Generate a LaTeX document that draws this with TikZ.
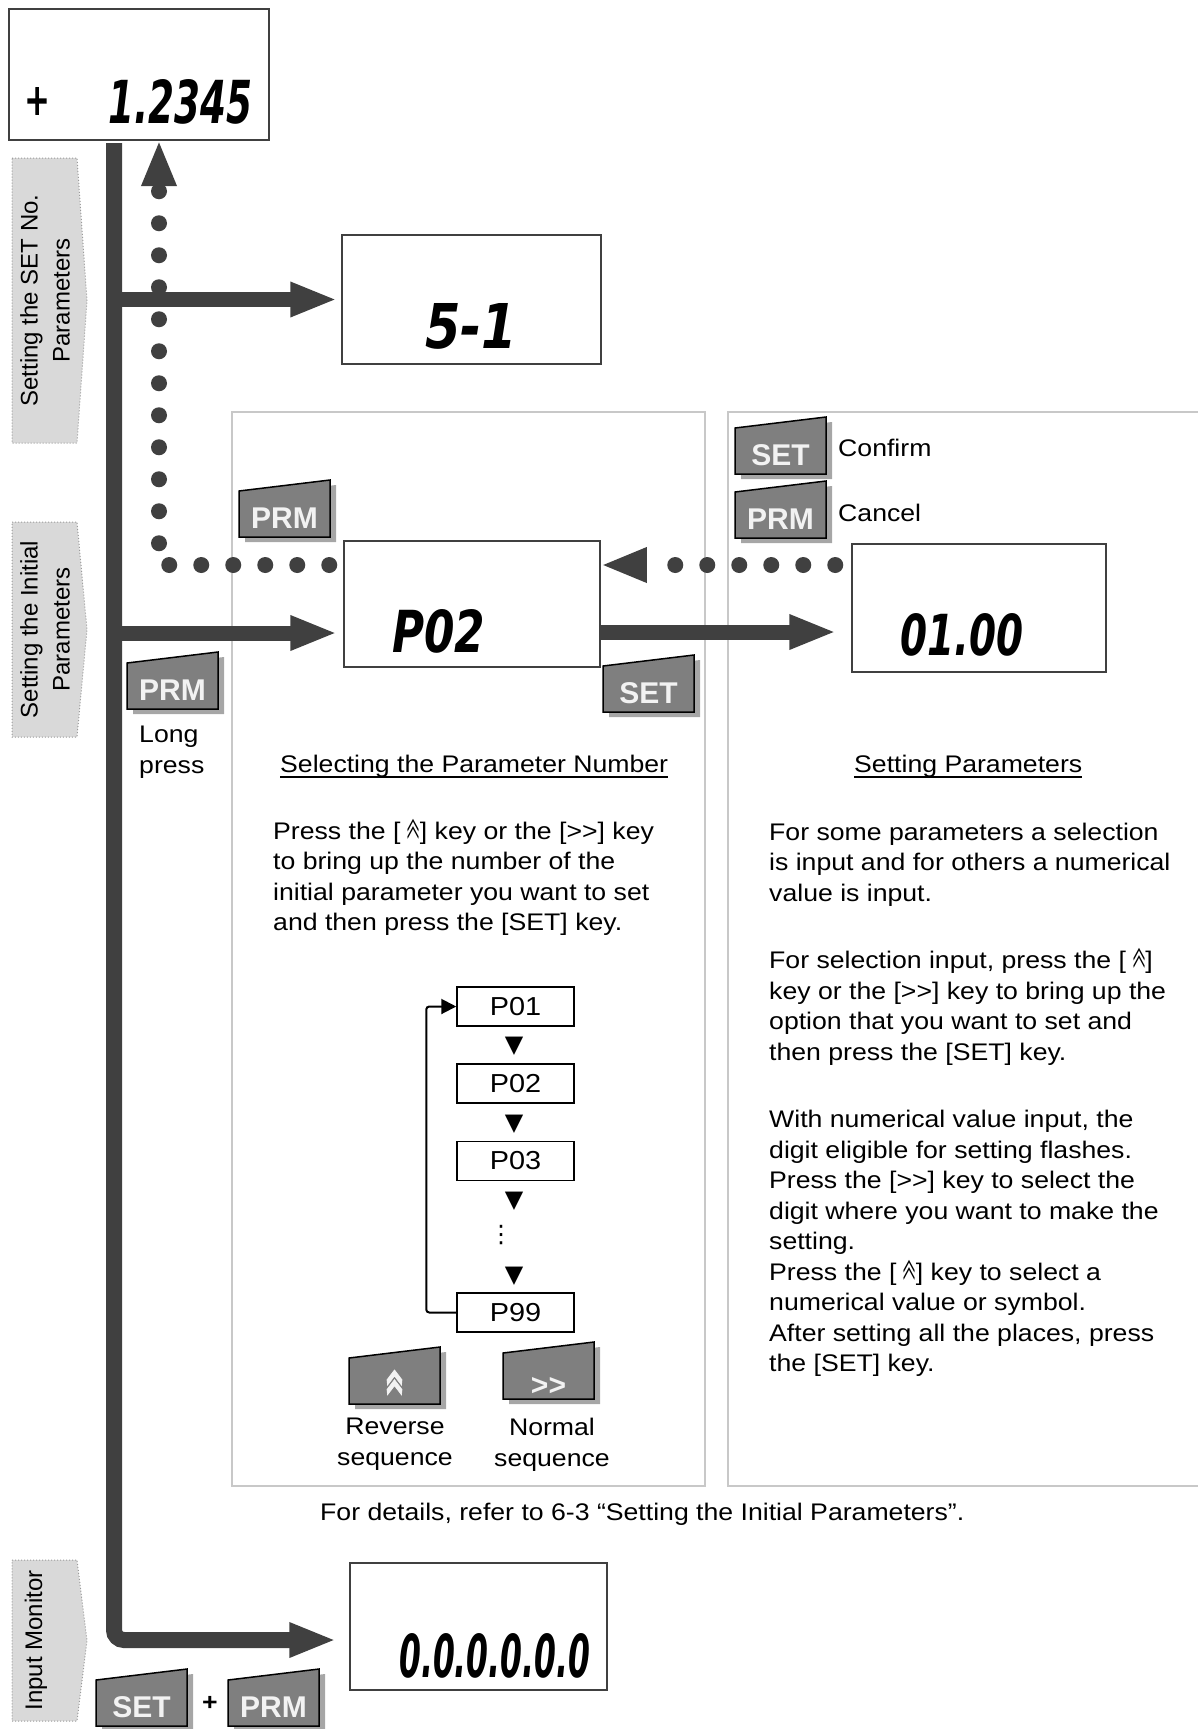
\documentclass[tikz,border=0pt]{standalone}
\usepackage{fontspec}
\usepackage{graphicx}
\usetikzlibrary{arrows.meta}
\setmainfont{Liberation Sans}[FakeStretch=1.11]
\newfontfamily\plainsans{Liberation Sans}
\newfontfamily\segfont{DejaVu Sans}
\newfontfamily\heavyfont{DejaVu Sans}[FakeBold=4]
\newfontfamily\symfont{DejaVu Sans}
\newfontfamily\cjk{Noto Sans CJK SC}
\newfontfamily\cjkbold{Noto Sans CJK SC}[FakeBold=2]
\definecolor{arrowgray}{HTML}{404040}
\definecolor{panelgray}{HTML}{C8C8C8}
\definecolor{labelfill}{HTML}{D9D9D9}
\definecolor{labeledge}{HTML}{9A9A9A}
\definecolor{btnfill}{HTML}{7F7F7F}
\definecolor{btnshadecol}{HTML}{A6A6A6}
\definecolor{btntextcol}{HTML}{F2F2F2}
\newcommand\gtgt{>\kern0pt>}
\newcommand\dcaret{\raisebox{\depth}{\resizebox*{0.5em}{0.84em}{\cjk ︽}}}
\newcommand\segtxt[3]{\resizebox{#1}{#2}{\segfont\bfseries\itshape #3}}
% key button: [label baseline offset]{name}{left x}{bottom y}{label}
\newcommand\keybtn[5][9]{%
  \fill[btnshadecol] (#3+6,#4+5) -- ++(0,-46) -- ++(91,-11) -- ++(0,57) -- cycle;
  \draw[btnbody] (#3,#4) -- ++(0,-46) -- ++(91,-11) -- ++(0,57) -- cycle;
  \node[btnlabel] (#2) at (#3+45.5,#4-#1) {#5};
}
% side label: {name}{top}{bottom}{text x}{text}
\newcommand\sidelabel[5]{%
  \draw[labelshape] (12,#2) -- (77,#2) -- (87,{(#2+#3)/2}) -- (77,#3) -- (12,#3) -- cycle;
  \node[labeltext] (#1) at (#4,{(#2+#3)/2}) {#5};
}
\begin{document}
\begin{tikzpicture}[x=1pt,y=-1pt,
  dispbox/.style={draw=black!75, line width=1.5pt, fill=white, inner sep=0pt},
  segnode/.style={anchor=base west, inner sep=0pt},
  bigarrow/.style={draw=arrowgray, line width=15pt, -{Triangle[length=47pt,width=32pt]}},
  trunkline/.style={draw=arrowgray, line width=16pt, rounded corners=10pt, -{Triangle[length=47pt,width=32pt]}},
  dotarrow/.style={draw=arrowgray, line width=16pt, line cap=round, dash pattern=on 0pt off 32pt, -{Triangle[length=46pt,width=32pt]}},
  panel/.style={draw=panelgray, line width=1.5pt},
  labelshape/.style={fill=labelfill, draw=labeledge, dotted, line width=1pt},
  labeltext/.style={rotate=90, align=center, inner sep=0pt, font=\plainsans\fontsize{24}{32}\selectfont},
  bodytext/.style={inner sep=0pt, align=left, font=\fontsize{24}{30.5}\selectfont},
  uline/.style={draw=black, line width=1.5pt},
  pbox/.style={draw=black, line width=1.5pt, minimum width=117pt, minimum height=39pt, inner sep=0pt, font=\fontsize{26}{26}\selectfont},
  tri/.style={inner sep=0pt, font=\symfont\fontsize{24}{24}\selectfont},
  loopline/.style={draw=black, line width=2pt, rounded corners=3pt, -{Triangle[length=15pt,width=15pt]}},
  btnbody/.style={fill=btnfill, draw=black, line width=1.5pt},
  btnlabel/.style={anchor=base, inner sep=0pt, text=btntextcol, font=\plainsans\bfseries\fontsize{30}{30}\selectfont}
]
\useasboundingbox (0,0) rectangle (1198,1729);
\clip (0,0) rectangle (1198,1729);

% panels
\draw[panel] (232,412) rectangle (705,1486);
\draw[panel] (1210,412) -- (728,412) -- (728,1486) -- (1210,1486);

% side labels
\sidelabel{lblset}{158}{443}{45}{Setting the SET No.\\Parameters}
\sidelabel{lblinit}{522}{737}{45}{Setting the Initial\\Parameters}
\sidelabel{lblmon}{1560}{1721}{36}{Input Monitor}

% display boxes
\node[dispbox, minimum width=260pt, minimum height=131pt] (top) at (139,74.5) {};
\node[dispbox, minimum width=259pt, minimum height=129pt] (setno) at (471.5,299.5) {};
\node[dispbox, minimum width=256pt, minimum height=126pt] (p02) at (472,604) {};
\node[dispbox, minimum width=254pt, minimum height=128pt] (val) at (979,608) {};
\node[dispbox, minimum width=257pt, minimum height=127pt] (mon) at (478.5,1626.5) {};

% display contents
\node[inner sep=0pt] (topplus) at (37,101) {\resizebox{24pt}{26pt}{\heavyfont +}};
\node[segnode] (topval) at (108,123) {\segtxt{144pt}{44pt}{1.2345}};
\node[segnode] (setnoval) at (425,348) {\segtxt{92pt}{45pt}{5-1}};
\node[segnode] (p02val) at (392,652) {\segtxt{93pt}{43pt}{P02}};
\node[segnode] (valval) at (900,655) {\segtxt{123pt}{42pt}{01.00}};
\node[segnode] (monval) at (399,1677) {\segtxt{191pt}{44pt}{0.0.0.0.0.0}};

% connectors
\coordinate (trunkTop) at (114,143);
\coordinate (dotTop) at (159,140);
\coordinate (p02in) at ([yshift=-29pt]p02.west);
\draw[dotarrow, shorten <=14pt] ([yshift=39pt]p02.west) -| (dotTop);
\draw[dotarrow, shorten <=16pt] ([yshift=43pt]val.west) -- ([yshift=39pt]p02.east);
\draw[trunkline, shorten >=13pt] (trunkTop) |- ([yshift=-13.5pt]mon.west);
\draw[bigarrow, shorten >=4pt] (trunkTop |- setno.west) -- (setno.west);
\draw[bigarrow, shorten >=6pt] (trunkTop |- p02in) -- (p02in);
\draw[bigarrow, shorten >=15pt] ([yshift=-28pt]p02.east) -- ([yshift=-24pt]val.west);

% keys
\keybtn{kprm}{239}{537}{PRM}
\keybtn{kprmlong}{127}{709}{PRM}
\keybtn{kset}{603}{712}{SET}
\keybtn{ksetok}{735}{474}{SET}
\keybtn{kprmcan}{735}{538}{PRM}
\keybtn[9]{kup}{349}{1404}{\raisebox{\depth}{\resizebox*{16pt}{25pt}{\cjkbold ︽}}}
\keybtn[4]{knext}{503}{1399}{\fontsize{30}{30}\selectfont >>}
\keybtn{ksetmon}{96}{1726}{SET}
\keybtn{kprmmon}{228}{1726}{PRM}
\node[bodytext, font=\bfseries\fontsize{24}{24}\selectfont] (plus) at (210,1703) {+};

% texts
\node[bodytext, anchor=base west] (confirm) at (838,456) {Confirm};
\node[bodytext, anchor=base west] (cancel) at (838,521) {Cancel};
\node[bodytext, anchor=north west] (longpress) at (139,726) {Long\\press};
\node[bodytext, anchor=base west] (selhead) at (280,772) {Selecting the Parameter Number};
\draw[uline] ([yshift=-5pt]selhead.base west) -- ([yshift=-5pt]selhead.base east);
\node[bodytext, anchor=base west] (sethead) at (854,772) {Setting Parameters};
\draw[uline] ([yshift=-5pt]sethead.base west) -- ([yshift=-5pt]sethead.base east);
\node[bodytext, anchor=north west] (seltxt) at (273,819) {Press the [ \dcaret] key or the [\gtgt] key\\to bring up the number of the\\initial parameter you want to set\\and then press the [SET] key.};
\node[bodytext, anchor=north west] (settxt) at (769,822.5) {For some parameters a selection\\is input and for others a numerical\\value is input.\\[37pt]For selection input, press the [ \dcaret]\\key or the [\gtgt] key to bring up the\\option that you want to set and\\then press the [SET] key.\\[37pt]With numerical value input, the\\digit eligible for setting flashes.\\Press the [\gtgt] key to select the\\digit where you want to make the\\setting.\\Press the [ \dcaret] key to select a\\numerical value or symbol.\\After setting all the places, press\\the [SET] key.};
\node[bodytext, align=center, anchor=north] (rev) at (395,1418) {Reverse\\sequence};
\node[bodytext, align=center, anchor=north] (norm) at (552,1418) {Normal\\sequence};
\node[bodytext, anchor=base west] (details) at (320,1520) {For details, refer to 6-3 “Setting the Initial Parameters”.};

% parameter sequence
\node[pbox] (q01) at (515.5,1006.5) {P01};
\node[pbox] (q02) at (515.5,1083.5) {P02};
\node[pbox] (q03) at (515.5,1161) {P03};
\node[pbox] (q99) at (515.5,1312.5) {P99};
\node[tri] (t1) at (514,1046) {▼};
\node[tri] (t2) at (514,1124) {▼};
\node[tri] (t3) at (514,1201) {▼};
\node[tri] (t4) at (514,1276.5) {▼};
\node[inner sep=0pt, font=\symfont\fontsize{24}{24}\selectfont] (vd) at (501,1235) {⋮};
\draw[loopline] (q99.west) -- ++(-30,0) |- (q01.west);
\end{tikzpicture}
\end{document}
